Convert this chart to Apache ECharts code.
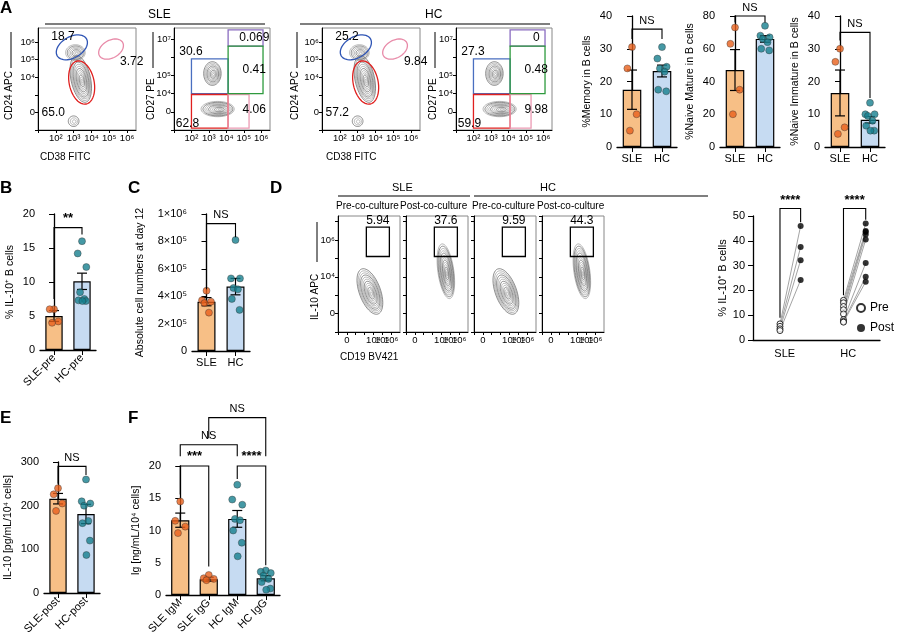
<!DOCTYPE html>
<html>
<head>
<meta charset="utf-8">
<script src="https://cdn.jsdelivr.net/npm/echarts@6/dist/echarts.min.js"></script>
<style>html,body{margin:0;background:#fff}#main{width:900px;height:640px}</style>
</head>
<body>
<div id="main"></div>
<script>
var myChart = echarts.init(document.getElementById('main'));

// ---- data ----
var twoGroups = ['SLE', 'HC'];
var memMeans = [17.5, 23.2], memSems = [6, 1.8];
var memSLE = [30.5, 24, 10, 5], memHC = [30.5, 27, 24.5, 24, 23, 17.5, 17];
var matMeans = [47, 66], matSems = [12.5, 2];
var matSLE = [73, 63, 35, 20], matHC = [74, 68, 67, 66, 64, 60, 59];
var immMeans = [16.5, 8.3], immSems = [7, 1];
var immSLE = [30, 26, 6, 4], immHC = [13.5, 10, 10, 9.5, 8, 6.5, 5, 5];

var preCats = ['SLE-pre', 'HC-pre'];
var il10Means = [5, 10.1], il10Sems = [0.8, 1.2];
var il10SLE = [6, 6, 4.2, 4], il10HC = [16, 14.2, 12.2, 8.5, 7.5, 7.3, 7.2, 7.2];

var absMeans = [3.6e5, 4.7e5], absSems = [0.3e5, 0.6e5];
var absSLE = [4.4e5, 3.7e5, 3.6e5, 3.5e5, 2.8e5], absHC = [8.1e5, 5.3e5, 5.3e5, 4.6e5, 4.5e5, 3.8e5, 3.0e5];

var pairSLEpre = [6.5, 5.5, 4.5, 3.8], pairSLEpost = [46, 37.5, 32.2, 24.2];
var pairHCpre = [16, 15, 13.5, 12.2, 10.5, 8.2, 7.5, 7.2], pairHCpost = [47, 44, 43.5, 42.5, 40.5, 31, 25.5, 23.5];

var postCats = ['SLE-post', 'HC-post'];
var secMeans = [216, 181], secSems = [12, 22];
var secSLE = [240, 226, 205, 188], secHC = [260, 210, 205, 200, 165, 160, 120, 87];

var igCats = ['SLE IgM', 'SLE IgG', 'HC IgM', 'HC IgG'];
var igMeans = [11.6, 2.45, 11.8, 2.6], igSems = [1.1, 0.3, 1.3, 0.4];
var igDots = [[14.5, 11.5, 10.6, 9.6], [3.1, 2.6, 2.5, 2.3], [17.1, 14.8, 14.0, 11.8, 11.6, 10.0, 8.1, 6.0], [3.8, 3.6, 3.4, 3.0, 2.5, 2.0, 1.0, 0.8]];

// flow plot numbers
var aSLEgate1 = ['18.7', '3.72', '65.0'], aSLEgate2 = ['30.6', '0.069', '0.41', '4.06', '62.8'];
var aHCgate1 = ['25.2', '9.84', '57.2'], aHCgate2 = ['27.3', '0', '0.48', '9.98', '59.9'];
var dGates = ['5.94', '37.6', '9.59', '44.3'];
var dTitles = ['Pre-co-culture', 'Post-co-culture', 'Pre-co-culture', 'Post-co-culture'];

// ---- colours ----
var OR_FILL = '#f7bf86', OR_DOT = '#e8601c', BL_FILL = '#c6dbf2', BL_DOT = '#17808f';
var FONT = 'Liberation Sans';
var SUP = {2: '10²', 3: '10³', 4: '10⁴', 5: '10⁵', 6: '10⁶', 7: '10⁷'};

var grids = [], xAxes = [], yAxes = [], series = [], graphics = [];
function offsets(n) {
    var base = [0, -0.22, 0.22, -0.1, 0.12, -0.18, 0.2, 0.02, -0.05];
    return base.slice(0, n);
}

function barPanel(p) {
    var gi = grids.push({left: p.left, top: p.top, width: p.width, height: p.height}) - 1;
    var n = p.cats.length;
    var xc = xAxes.push({gridIndex: gi, type: 'category', data: p.cats,
        axisTick: {show: true, alignWithLabel: true, lineStyle: {color: '#000'}},
        axisLine: {lineStyle: {color: '#000', width: 1.3}},
        axisLabel: {color: '#000', fontSize: 11, fontFamily: FONT, rotate: p.rotate || 0, interval: 0, margin: 6, width: 90, overflow: 'none'}}) - 1;
    var xv = xAxes.push({gridIndex: gi, type: 'value', min: -0.5, max: n - 0.5, show: false}) - 1;
    var yi = yAxes.push({gridIndex: gi, type: 'value', min: 0, max: p.max, interval: p.interval,
        name: p.yName, nameLocation: 'middle', nameGap: p.nameGap || 24,
        nameTextStyle: {color: '#000', fontSize: 10.5, fontFamily: FONT},
        axisLine: {show: true, lineStyle: {color: '#000', width: 1.3}},
        axisTick: {show: true, lineStyle: {color: '#000'}},
        splitLine: {show: false},
        axisLabel: {color: '#000', fontSize: 11, fontFamily: FONT, margin: 5, formatter: p.fmt}}) - 1;
    series.push({type: 'bar', xAxisIndex: xc, yAxisIndex: yi, barWidth: p.barWidth || '62%',
        data: p.means.map(function (m, i) { return {value: m, itemStyle: {color: p.fills[i]}}; }),
        itemStyle: {borderColor: '#000', borderWidth: 1.2}, silent: true});
    series.push({type: 'custom', xAxisIndex: xv, yAxisIndex: yi, z: 3,
        data: p.means.map(function (m, i) { return [i, m, p.sems[i]]; }),
        renderItem: function (params, api) {
            var i = api.value(0), m = api.value(1), s = api.value(2);
            var a = api.coord([i, m - s]), b = api.coord([i, m + s]);
            var st = {stroke: '#000', lineWidth: 1.2};
            return {type: 'group', children: [
                {type: 'line', shape: {x1: a[0], y1: a[1], x2: b[0], y2: b[1]}, style: st},
                {type: 'line', shape: {x1: a[0] - 5, y1: a[1], x2: a[0] + 5, y2: a[1]}, style: st},
                {type: 'line', shape: {x1: b[0] - 5, y1: b[1], x2: b[0] + 5, y2: b[1]}, style: st}
            ]};
        }});
    var pts = [];
    p.dots.forEach(function (arr, i) {
        var off = offsets(arr.length);
        arr.forEach(function (v, k) {
            pts.push({value: [i + off[k] * (p.spread || 0.7), v], itemStyle: {color: p.dotCols[i]}});
        });
    });
    series.push({type: 'scatter', xAxisIndex: xv, yAxisIndex: yi, symbolSize: 7, z: 4, data: pts,
        itemStyle: {borderColor: '#333', borderWidth: 0.5}, silent: true});
    if (p.brackets) {
        var br = p.brackets;
        series.push({type: 'custom', xAxisIndex: xv, yAxisIndex: yi, clip: false, z: 5,
            data: br.map(function (b, k) { return [k]; }),
            renderItem: function (params, api) {
                var b = br[api.value(0)];
                var l = api.coord([b[0], b[3]]), r = api.coord([b[1], b[4]]);
                var tl = api.coord([b[0], b[2]]), tr = api.coord([b[1], b[2]]);
                return {type: 'group', children: [
                    {type: 'polyline', shape: {points: [l, tl, tr, r]}, style: {stroke: '#000', lineWidth: 1.1, fill: null}},
                    {type: 'text', style: {text: b[5], x: (tl[0] + tr[0]) / 2, y: tl[1] - 3, textAlign: 'center', textVerticalAlign: 'bottom',
                        fontSize: b[5] === 'NS' ? 11 : 13, fontWeight: b[5] === 'NS' ? 'normal' : 'bold', fontFamily: FONT, fill: '#000'}}
                ]};
            }});
    }
}

function supFmt(map) { return function (v) { return map[Math.round(v)] || ''; }; }

function ellipsePts(c, rx, ry, ang) {
    var pts = [], a = ang * Math.PI / 180;
    for (var t = 0; t < 48; t++) {
        var th = t / 48 * Math.PI * 2, x = rx * Math.cos(th), y = ry * Math.sin(th);
        pts.push([c[0] + x * Math.cos(a) - y * Math.sin(a), c[1] + x * Math.sin(a) + y * Math.cos(a)]);
    }
    return pts;
}

function flowPanel(p) {
    var gi = grids.push({left: p.left, top: p.top, width: p.width, height: p.height, show: true, borderColor: '#888', borderWidth: 1}) - 1;
    var xi = xAxes.push({gridIndex: gi, type: 'value', min: p.xr[0], max: p.xr[1], interval: 1,
        axisLine: {show: true, onZero: false, lineStyle: {color: '#000'}}, axisTick: {show: true, length: 3, lineStyle: {color: '#000'}},
        splitLine: {show: false}, axisLabel: {color: '#000', fontSize: 9.5, fontFamily: FONT, margin: 3, formatter: supFmt(p.xl), showMaxLabel: false}}) - 1;
    var yi = yAxes.push({gridIndex: gi, type: 'value', min: p.yr[0], max: p.yr[1], interval: 1,
        axisLine: {show: true, onZero: false, lineStyle: {color: '#000'}}, axisTick: {show: true, length: 3, lineStyle: {color: '#000'}},
        splitLine: {show: false}, axisLabel: {show: p.yLabels !== false, color: '#000', fontSize: 9.5, fontFamily: FONT, margin: 3, formatter: supFmt(p.yl), showMaxLabel: false}}) - 1;
    var cont = p.contours;
    series.push({type: 'custom', xAxisIndex: xi, yAxisIndex: yi, silent: true,
        data: cont.map(function (c, k) { return [k]; }),
        renderItem: function (params, api) {
            var c = cont[api.value(0)], ctr = api.coord([c[0], c[1]]), sz = api.size([c[2], c[3]]);
            var kids = [];
            for (var r = 1; r <= c[5]; r++) {
                var f = r / c[5];
                kids.push({type: 'polygon', shape: {points: ellipsePts([ctr[0] + (1 - f) * sz[0] * 0.15, ctr[1] + (1 - f) * sz[1] * 0.1], sz[0] * f, sz[1] * f, c[4])},
                    style: {stroke: r % 3 === 0 ? '#444' : '#8a8a8a', lineWidth: 0.6, fill: null}});
            }
            return {type: 'group', children: kids};
        }});
    var gates = p.gates;
    series.push({type: 'custom', xAxisIndex: xi, yAxisIndex: yi, silent: true, z: 3,
        data: gates.map(function (g, k) { return [k]; }),
        renderItem: function (params, api) {
            var g = gates[api.value(0)];
            if (g[0] === 'e') {
                var ctr = api.coord([g[1], g[2]]), sz = api.size([g[3], g[4]]);
                return {type: 'polygon', shape: {points: ellipsePts(ctr, sz[0], sz[1], g[5])}, style: {stroke: g[6], lineWidth: 1.3, fill: null}};
            }
            var a = api.coord([g[1], g[2]]), b = api.coord([g[3], g[4]]);
            return {type: 'rect', shape: {x: a[0], y: b[1], width: b[0] - a[0], height: a[1] - b[1]}, style: {stroke: g[5], lineWidth: 1.3, fill: null}};
        }});
    var labs = p.labels;
    series.push({type: 'custom', xAxisIndex: xi, yAxisIndex: yi, silent: true, z: 4, clip: false,
        data: labs.map(function (l, k) { return [k]; }),
        renderItem: function (params, api) {
            var l = labs[api.value(0)], c = api.coord([l[0], l[1]]);
            return {type: 'text', style: {text: l[2], x: c[0], y: c[1], textAlign: l[3] || 'center', textVerticalAlign: 'middle', fontSize: 12, fontFamily: FONT, fill: '#000'}};
        }});
}

// ---- Panel A flow ----
var xA = {2: SUP[2], 3: SUP[3], 4: SUP[4], 5: SUP[5], 6: SUP[6]};
var yA1 = {1: '0', 3: SUP[4], 4: SUP[5], 5: SUP[6]};
var yA2 = {1: '0', 2: SUP[4], 3: SUP[5], 5: SUP[7]};
function aPair(left1, left2, g1, g2) {
    flowPanel({left: left1, top: 28, width: 98, height: 102, xr: [1, 6.5], yr: [0, 5.8], xl: xA, yl: yA1,
        contours: [[3.4, 2.9, 0.55, 1.35, -12, 12], [3.1, 4.4, 0.55, 0.45, 0, 7], [3.0, 0.5, 0.3, 0.3, 0, 3]],
        gates: [['e', 2.9, 4.7, 0.95, 0.6, -30, '#2f55b5'], ['e', 5.1, 4.6, 0.75, 0.5, -30, '#e88aa8'], ['e', 3.45, 2.7, 0.7, 1.25, -12, '#e0201f']],
        labels: [[2.4, 5.3, g1[0]], [5.6, 3.9, g1[1], 'left'], [1.2, 1.0, g1[2], 'left']]});
    flowPanel({left: left2, top: 28, width: 96, height: 102, xr: [1, 6.5], yr: [0, 5.6], xl: xA, yl: yA2,
        contours: [[3.2, 3.1, 0.5, 0.65, 0, 9], [3.5, 1.15, 0.95, 0.42, 0, 10]],
        gates: [['r', 2, 2.0, 4.1, 3.9, '#4a6fc0'], ['r', 2, 0.1, 4.1, 1.95, '#e0201f'], ['r', 4.1, 0.1, 5.3, 1.95, '#eb9ab3'],
            ['r', 4.1, 4.6, 6.1, 5.5, '#8a6cc0'], ['r', 4.1, 2.0, 6.1, 4.6, '#2e9a3e']],
        labels: [[1.3, 4.3, g2[0], 'left'], [5.6, 5.05, g2[1]], [5.6, 3.3, g2[2]], [5.6, 1.1, g2[3]], [1.1, 0.35, g2[4], 'left']]});
}
aPair(38, 174, aSLEgate1, aSLEgate2);
aPair(322, 456, aHCgate1, aHCgate2);

// ---- A bar panels ----
barPanel({left: 617, top: 16, width: 60, height: 131, cats: twoGroups, means: memMeans, sems: memSems, dots: [memSLE, memHC],
    fills: [OR_FILL, BL_FILL], dotCols: [OR_DOT, BL_DOT], max: 40, interval: 10, yName: '%Memory in B cells', nameGap: 24,
    brackets: [[0, 1, 36, 33, 33, 'NS']]});
barPanel({left: 720, top: 16, width: 60, height: 131, cats: twoGroups, means: matMeans, sems: matSems, dots: [matSLE, matHC],
    fills: [OR_FILL, BL_FILL], dotCols: [OR_DOT, BL_DOT], max: 80, interval: 20, yName: '%Naive Mature in B cells', nameGap: 24,
    brackets: [[0, 1, 80, 76, 76, 'NS']]});
barPanel({left: 825, top: 16, width: 60, height: 131, cats: twoGroups, means: immMeans, sems: immSems, dots: [immSLE, immHC],
    fills: [OR_FILL, BL_FILL], dotCols: [OR_DOT, BL_DOT], max: 40, interval: 10, yName: '%Naive Immature in B cells', nameGap: 24,
    brackets: [[0, 1, 35, 32.5, 15, 'NS']]});

// ---- B, C ----
barPanel({left: 40, top: 214, width: 56, height: 136, cats: preCats, means: il10Means, sems: il10Sems, dots: [il10SLE, il10HC],
    fills: [OR_FILL, BL_FILL], dotCols: [OR_DOT, BL_DOT], max: 20, interval: 5, yName: '% IL-10⁺ B cells', nameGap: 24, rotate: 45,
    brackets: [[0, 1, 18, 7.5, 17, '**']]});
barPanel({left: 192, top: 214, width: 58, height: 137, cats: twoGroups, means: absMeans, sems: absSems, dots: [absSLE, absHC],
    fills: [OR_FILL, BL_FILL], dotCols: [OR_DOT, BL_DOT], max: 1e6, interval: 2e5, yName: 'Absolute cell numbers at day 12', nameGap: 46,
    fmt: function (v) { if (v === 0) return '0'; var e = Math.floor(Math.log10(v) + 1e-9); var m = Math.round(v / Math.pow(10, e)); return m + '×' + SUP[e]; },
    brackets: [[0, 1, 0.93e6, 0.45e6, 0.83e6, 'NS']]});

// ---- D flow ----
var xD = {1: '0', 4: SUP[4], 5: SUP[5], 6: SUP[6]};
var yD = {1: '0', 3: SUP[4], 5: SUP[6]};
[338, 406, 474, 542].forEach(function (lx, k) {
    var post = k % 2 === 1;
    flowPanel({left: lx, top: 216, width: 62, height: 116, xr: [0, 7], yr: [0, 6.3], xl: xD, yl: yD, yLabels: k === 0,
        contours: post ? [[4.5, 3.3, 0.9, 1.5, -8, 13]] : [[3.6, 2.2, 1.2, 1.3, -20, 12]],
        gates: [['r', 3.2, 4.1, 5.8, 5.7, '#000']],
        labels: [[4.5, 6.05, dGates[k]]]});
});

// ---- D paired ----
(function () {
    var gi = grids.push({left: 753, top: 216, width: 127, height: 124}) - 1;
    var xc = xAxes.push({gridIndex: gi, type: 'category', data: twoGroups, axisTick: {show: false},
        axisLine: {lineStyle: {color: '#000', width: 1.3}}, axisLabel: {color: '#000', fontSize: 11, fontFamily: FONT}}) - 1;
    var xv = xAxes.push({gridIndex: gi, type: 'value', min: 0, max: 4, show: false}) - 1;
    var yi = yAxes.push({gridIndex: gi, type: 'value', min: 0, max: 50, interval: 10, name: '% IL-10⁺ B cells', nameLocation: 'middle', nameGap: 24,
        nameTextStyle: {color: '#000', fontSize: 11, fontFamily: FONT},
        axisLine: {show: true, lineStyle: {color: '#000', width: 1.3}}, axisTick: {show: true, lineStyle: {color: '#000'}},
        splitLine: {show: false}, axisLabel: {color: '#000', fontSize: 11, fontFamily: FONT}}) - 1;
    var xs = [0.85, 1.5, 2.85, 3.55];
    var lineData = [], pre = [], post = [];
    [[pairSLEpre, pairSLEpost, 0], [pairHCpre, pairHCpost, 2]].forEach(function (g) {
        g[0].forEach(function (v, i) {
            lineData.push([xs[g[2]], v], [xs[g[2] + 1], g[1][i]], '-');
            pre.push([xs[g[2]], v]); post.push([xs[g[2] + 1], g[1][i]]);
        });
    });
    series.push({type: 'bar', xAxisIndex: xc, yAxisIndex: yi, data: [], silent: true});
    series.push({type: 'line', xAxisIndex: xv, yAxisIndex: yi, data: lineData, symbol: 'none', connectNulls: false,
        lineStyle: {color: '#999', width: 0.9}, silent: true});
    series.push({name: 'Pre', type: 'scatter', xAxisIndex: xv, yAxisIndex: yi, data: pre, symbolSize: 6,
        itemStyle: {color: '#fff', borderColor: '#000', borderWidth: 1}, z: 4});
    series.push({name: 'Post', type: 'scatter', xAxisIndex: xv, yAxisIndex: yi, data: post, symbolSize: 6,
        itemStyle: {color: '#000'}, z: 4});
    var br = [[xs[0], xs[1], 53, 9, 47.5, '****'], [xs[2], xs[3], 53, 18, 48.5, '****']];
    series.push({type: 'custom', xAxisIndex: xv, yAxisIndex: yi, clip: false, z: 5, data: [[0], [1]],
        renderItem: function (params, api) {
            var b = br[api.value(0)];
            var l = api.coord([b[0], b[3]]), r = api.coord([b[1], b[4]]), tl = api.coord([b[0], b[2]]), tr = api.coord([b[1], b[2]]);
            return {type: 'group', children: [
                {type: 'polyline', shape: {points: [l, tl, tr, r]}, style: {stroke: '#000', lineWidth: 1.1, fill: null}},
                {type: 'text', style: {text: b[5], x: (tl[0] + tr[0]) / 2, y: tl[1] - 2, textAlign: 'center', textVerticalAlign: 'bottom', fontSize: 13, fontWeight: 'bold', fontFamily: FONT, fill: '#000'}}
            ]};
        }});
})();

// ---- E, F ----
barPanel({left: 44, top: 462, width: 56, height: 131, cats: postCats, means: secMeans, sems: secSems, dots: [secSLE, secHC],
    fills: [OR_FILL, BL_FILL], dotCols: [OR_DOT, BL_DOT], max: 300, interval: 100, yName: 'IL-10 [pg/mL/10⁴ cells]', nameGap: 30, rotate: 45,
    brackets: [[0, 1, 290, 250, 270, 'NS']]});
barPanel({left: 166, top: 466, width: 114, height: 129, cats: igCats, means: igMeans, sems: igSems, dots: igDots,
    fills: [OR_FILL, OR_FILL, BL_FILL, BL_FILL], dotCols: [OR_DOT, OR_DOT, BL_DOT, BL_DOT], max: 20, interval: 5,
    yName: 'Ig [ng/mL/10⁴ cells]', nameGap: 24, rotate: 45, barWidth: '64%', spread: 0.8,
    brackets: [[0, 1, 20, 15.6, 4.4, '***'], [2, 3, 20, 18, 4.6, '****'], [0, 2, 23.3, 21.5, 21.5, 'NS'], [1, 3, 27.5, 24.3, 21.5, 'NS']]});

// ---- text decorations ----
function txt(t, x, y, o) {
    graphics.push({type: 'text', left: x, top: y, style: Object.assign({text: t, fontFamily: FONT, fontSize: 11, fill: '#000'}, o || {})});
}
function hline(x1, x2, y) {
    graphics.push({type: 'line', shape: {x1: x1, y1: y, x2: x2, y2: y}, style: {stroke: '#000', lineWidth: 1.2}});
}
[['A', 0, 0], ['B', 0, 180], ['C', 128, 180], ['D', 270, 180], ['E', 0, 410], ['F', 128, 410]].forEach(function (l) {
    txt(l[0], l[1], l[2], {fontSize: 17, fontWeight: 'bold'});
});
txt('SLE', 148, 9, {fontSize: 12}); hline(45, 265, 24);
txt('HC', 425, 9, {fontSize: 12}); hline(300, 550, 24);
txt('CD38 FITC', 40, 152, {fontSize: 10}); txt('CD38 FITC', 326, 152, {fontSize: 10});
[[4, 120, 'CD24 APC'], [146, 120, 'CD27 PE'], [290, 120, 'CD24 APC'], [428, 120, 'CD27 PE']].forEach(function (a) {
    graphics.push({type: 'text', x: a[0], y: a[1], rotation: Math.PI / 2, style: {text: a[2], fontFamily: FONT, fontSize: 10, fill: '#000'}});
    graphics.push({type: 'line', shape: {x1: a[0] + 7, y1: a[1] - 52, x2: a[0] + 7, y2: a[1] - 88}, style: {stroke: '#000', lineWidth: 1}});
});
graphics.push({type: 'text', x: 310, y: 320, rotation: Math.PI / 2, style: {text: 'IL-10 APC', fontFamily: FONT, fontSize: 10, fill: '#000'}});
graphics.push({type: 'line', shape: {x1: 317, y1: 262, x2: 317, y2: 222}, style: {stroke: '#000', lineWidth: 1}});
txt('CD19 BV421', 340, 352, {fontSize: 10});
txt('SLE', 392, 182, {fontSize: 11}); hline(338, 470, 196);
txt('HC', 540, 182, {fontSize: 11}); hline(474, 708, 196);
dTitles.forEach(function (t, k) { txt(t, [336, 400, 472, 537][k], 201, {fontSize: 10}); });

myChart.setOption({
    animation: false,
    grid: grids, xAxis: xAxes, yAxis: yAxes, series: series,
    legend: {data: [{name: 'Pre', icon: 'circle'}, {name: 'Post', icon: 'circle'}], orient: 'vertical', left: 856, top: 302, itemGap: 8,
        itemWidth: 8, itemHeight: 8, padding: 0, textStyle: {fontSize: 12, fontFamily: FONT, color: '#000'}},
    graphic: graphics
});
</script>
</body>
</html>
